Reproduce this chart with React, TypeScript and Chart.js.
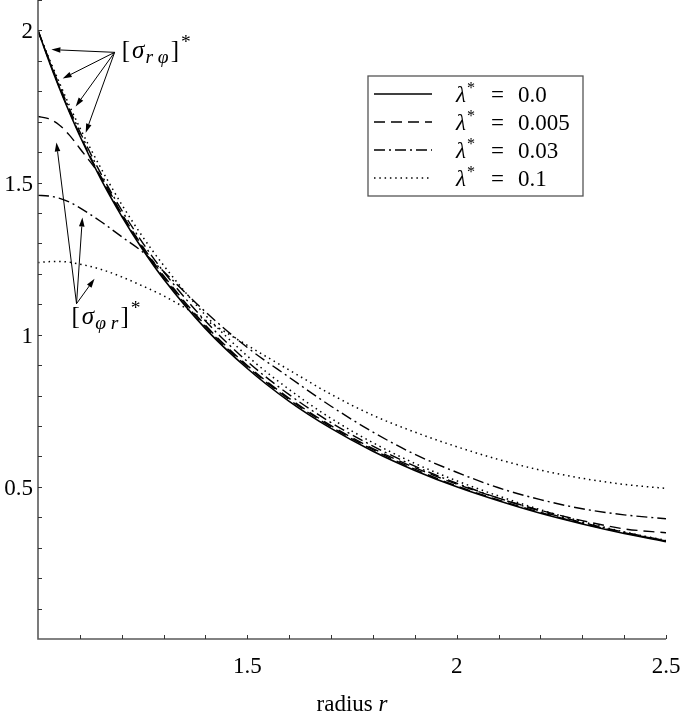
import React, { useEffect, useRef } from 'react';
import { Chart, registerables } from 'chart.js';

Chart.register(...registerables);

// ---------- data ----------
const RADIUS = [1, 1.025, 1.05, 1.075, 1.1, 1.15, 1.2, 1.25, 1.3, 1.4, 1.5, 1.6, 1.7, 1.8, 1.9, 2.0, 2.1, 2.2, 2.3, 2.4, 2.5];

// lambda* = 0.0 (both stress components coincide)
const SIGMA_L0 = [2.0, 1.904, 1.814, 1.731, 1.653, 1.512, 1.389, 1.28, 1.183, 1.02, 0.889, 0.781, 0.692, 0.617, 0.554, 0.5, 0.454, 0.413, 0.378, 0.347, 0.32];

// [sigma_r phi]*
const SIGMA_RPHI_L005 = [2.0, 1.906, 1.817, 1.734, 1.657, 1.517, 1.394, 1.285, 1.189, 1.026, 0.895, 0.787, 0.697, 0.622, 0.558, 0.503, 0.457, 0.416, 0.38, 0.349, 0.322];
const SIGMA_RPHI_L03 = [2.0, 1.909, 1.823, 1.742, 1.667, 1.53, 1.409, 1.302, 1.207, 1.045, 0.912, 0.803, 0.711, 0.634, 0.568, 0.512, 0.463, 0.42, 0.383, 0.351, 0.323];
const SIGMA_RPHI_L1 = [2.0, 1.913, 1.832, 1.753, 1.68, 1.548, 1.428, 1.322, 1.228, 1.064, 0.93, 0.82, 0.725, 0.645, 0.577, 0.52, 0.47, 0.425, 0.386, 0.352, 0.324];

// [sigma_phi r]*
const SIGMA_PHIR_L005 = [1.717, 1.71, 1.69, 1.656, 1.612, 1.52, 1.398, 1.29, 1.194, 1.031, 0.899, 0.791, 0.701, 0.626, 0.563, 0.509, 0.463, 0.423, 0.389, 0.362, 0.349];
const SIGMA_PHIR_L03 = [1.458, 1.456, 1.449, 1.436, 1.417, 1.372, 1.322, 1.272, 1.208, 1.075, 0.958, 0.86, 0.765, 0.68, 0.607, 0.548, 0.497, 0.458, 0.428, 0.408, 0.395];
const SIGMA_PHIR_L1 = [1.237, 1.24, 1.241, 1.238, 1.232, 1.215, 1.19, 1.16, 1.128, 1.048, 0.965, 0.884, 0.804, 0.735, 0.68, 0.632, 0.59, 0.555, 0.528, 0.508, 0.495];

const LAMBDA_LABELS = ['0.0', '0.005', '0.03', '0.1'];
const X_TICK_VALUES = [1.5, 2, 2.5];
const X_TICK_LABELS = ['1.5', '2', '2.5'];
const Y_TICK_VALUES = [0.5, 1, 1.5, 2];
const Y_TICK_LABELS = ['0.5', '1', '1.5', '2'];
const X_TITLE = 'radius ';
const X_TITLE_VAR = 'r';

// annotation arrows (data coordinates)
const RPHI_ARROW_TAIL = [1.183, 1.928];
const RPHI_ARROW_HEADS = [[1.032, 1.937], [1.059, 1.842], [1.09, 1.75], [1.114, 1.664]];
const PHIR_ARROW_TAIL = [1.092, 1.102];
const PHIR_ARROW_HEADS = [[1.044, 1.632], [1.106, 1.385], [1.135, 1.184]];
const RPHI_LABEL_AT = [1.2, 1.91];
const PHIR_LABEL_AT = [1.08, 1.036];

// ---------- styles ----------
const DASHES: number[][] = [[], [11, 6], [11, 4, 2, 4], [1.5, 3.8]];
const WIDTHS = [1.6, 1.4, 1.4, 1.5];
const FONT = '"Liberation Serif", "Times New Roman", serif';
const FS = 23;

type Run = { t: string; it?: boolean; sub?: boolean; sup?: boolean; dx?: number };

function drawRuns(ctx: CanvasRenderingContext2D, runs: Run[], x: number, y: number, size: number, subScale = 0.7) {
  let cx = x;
  for (const r of runs) {
    const s = r.sub || r.sup ? size * subScale : size;
    ctx.font = `${r.it ? 'italic ' : ''}${s}px ${FONT}`;
    const dy = r.sub ? size * 0.22 : r.sup ? -size * 0.38 : 0;
    cx += r.dx ?? 0;
    ctx.fillText(r.t, cx, y + dy);
    cx += ctx.measureText(r.t).width;
  }
}

function arrow(ctx: CanvasRenderingContext2D, x1: number, y1: number, x2: number, y2: number) {
  const ang = Math.atan2(y2 - y1, x2 - x1);
  const L = 9;
  const W = 2.8;
  const bx = x2 - L * Math.cos(ang);
  const by = y2 - L * Math.sin(ang);
  ctx.beginPath();
  ctx.moveTo(x1, y1);
  ctx.lineTo(bx, by);
  ctx.stroke();
  ctx.beginPath();
  ctx.moveTo(x2, y2);
  ctx.lineTo(bx + W * Math.sin(ang), by - W * Math.cos(ang));
  ctx.lineTo(bx - W * Math.sin(ang), by + W * Math.cos(ang));
  ctx.closePath();
  ctx.fill();
}

const overlay = {
  id: 'overlay',
  afterDraw(chart: any) {
    const { ctx, chartArea: a, scales } = chart;
    const xs = scales.x;
    const ys = scales.y;
    const X = (v: number) => xs.getPixelForValue(v);
    const Y = (v: number) => ys.getPixelForValue(v);
    ctx.save();

    // axis lines
    ctx.strokeStyle = '#5a5a5a';
    ctx.lineWidth = 1.6;
    ctx.setLineDash([]);
    ctx.beginPath();
    ctx.moveTo(a.left, a.top);
    ctx.lineTo(a.left, a.bottom);
    ctx.lineTo(a.right, a.bottom);
    ctx.stroke();

    // inward ticks every 0.1
    ctx.strokeStyle = '#333';
    ctx.lineWidth = 1;
    ctx.beginPath();
    for (let i = 11; i <= 25; i++) {
      const px = Math.round(X(i / 10)) + 0.5;
      ctx.moveTo(px, a.bottom);
      ctx.lineTo(px, a.bottom - 4);
    }
    for (let i = 1; i <= 21; i++) {
      const py = Math.round(Y(i / 10)) + 0.5;
      ctx.moveTo(a.left, py);
      ctx.lineTo(a.left + 4, py);
    }
    ctx.stroke();

    // tick labels
    ctx.fillStyle = '#000';
    ctx.font = `${FS}px ${FONT}`;
    ctx.textBaseline = 'alphabetic';
    ctx.textAlign = 'center';
    X_TICK_VALUES.forEach((v, i) => ctx.fillText(X_TICK_LABELS[i], X(v), a.bottom + 34));
    ctx.textAlign = 'right';
    Y_TICK_VALUES.forEach((v, i) => ctx.fillText(Y_TICK_LABELS[i], a.left - 5, Y(v) + 8));

    // x title
    ctx.textAlign = 'left';
    ctx.font = `${FS}px ${FONT}`;
    const w1 = ctx.measureText(X_TITLE).width;
    ctx.font = `italic ${FS}px ${FONT}`;
    const w2 = ctx.measureText(X_TITLE_VAR).width;
    const tx = (a.left + a.right) / 2 - (w1 + w2) / 2;
    drawRuns(ctx, [{ t: X_TITLE }, { t: X_TITLE_VAR, it: true }], tx, 711, FS);

    // legend
    const lx = 368, ly = 76, lw = 215, lh = 120;
    ctx.fillStyle = '#fff';
    ctx.fillRect(lx, ly, lw, lh);
    ctx.strokeStyle = '#555';
    ctx.lineWidth = 1.3;
    ctx.strokeRect(lx, ly, lw, lh);
    ctx.fillStyle = '#000';
    LAMBDA_LABELS.forEach((lab, i) => {
      const cy = ly + 18 + i * 28;
      ctx.strokeStyle = '#000';
      ctx.lineWidth = WIDTHS[i];
      ctx.setLineDash(DASHES[i]);
      ctx.beginPath();
      ctx.moveTo(lx + 6, cy);
      ctx.lineTo(lx + 64, cy);
      ctx.stroke();
      ctx.setLineDash([]);
      drawRuns(ctx, [
        { t: 'λ', it: true },
        { t: '*', sup: true, dx: 1 },
        { t: '=', dx: 16 },
        { t: lab, dx: 14 },
      ], lx + 88, cy + 8, FS);
    });

    // annotations
    ctx.strokeStyle = '#000';
    ctx.fillStyle = '#000';
    ctx.lineWidth = 1;
    ctx.setLineDash([]);
    RPHI_ARROW_HEADS.forEach(([hx, hy]) => arrow(ctx, X(RPHI_ARROW_TAIL[0]), Y(RPHI_ARROW_TAIL[1]), X(hx), Y(hy)));
    PHIR_ARROW_HEADS.forEach(([hx, hy]) => arrow(ctx, X(PHIR_ARROW_TAIL[0]), Y(PHIR_ARROW_TAIL[1]), X(hx), Y(hy)));
    drawRuns(ctx, [
      { t: '[' },
      { t: 'σ', it: true, dx: 2 },
      { t: 'r φ', it: true, sub: true, dx: 1 },
      { t: ']', dx: 2 },
      { t: '*', sup: true, dx: 2 },
    ], X(RPHI_LABEL_AT[0]), Y(RPHI_LABEL_AT[1]), 25, 0.78);
    drawRuns(ctx, [
      { t: '[' },
      { t: 'σ', it: true, dx: 2 },
      { t: 'φ r', it: true, sub: true, dx: 1 },
      { t: ']', dx: 2 },
      { t: '*', sup: true, dx: 2 },
    ], X(PHIR_LABEL_AT[0]), Y(PHIR_LABEL_AT[1]), 25, 0.78);

    ctx.restore();
  },
};

function series(vals: number[]) {
  return RADIUS.map((r, i) => ({ x: r, y: vals[i] }));
}

function ds(vals: number[], k: number) {
  return {
    data: series(vals),
    borderColor: '#000',
    borderWidth: WIDTHS[k],
    borderDash: DASHES[k],
    pointRadius: 0,
    fill: false,
    cubicInterpolationMode: 'monotone' as const,
  };
}

export default function App() {
  const ref = useRef<HTMLCanvasElement>(null);
  useEffect(() => {
    if (!ref.current) return;
    const chart = new Chart(ref.current, {
      type: 'line',
      data: {
        datasets: [
          ds(SIGMA_PHIR_L1, 3),
          ds(SIGMA_PHIR_L03, 2),
          ds(SIGMA_PHIR_L005, 1),
          ds(SIGMA_RPHI_L1, 3),
          ds(SIGMA_RPHI_L03, 2),
          ds(SIGMA_RPHI_L005, 1),
          ds(SIGMA_L0, 0),
        ] as any,
      },
      options: {
        responsive: false,
        animation: false,
        layout: { padding: { left: 38, right: 19, top: 0, bottom: 77 } },
        plugins: { legend: { display: false }, tooltip: { enabled: false } },
        scales: {
          x: { type: 'linear', min: 1, max: 2.5, display: false },
          y: { type: 'linear', min: 0, max: 2.1, display: false },
        },
      },
      plugins: [overlay],
    });
    return () => chart.destroy();
  }, []);
  return (
    <div style={{ position: 'absolute', left: 0, top: 0, width: 685, height: 716, background: '#fff' }}>
      <canvas ref={ref} width={685} height={716} style={{ display: 'block' }} />
    </div>
  );
}
